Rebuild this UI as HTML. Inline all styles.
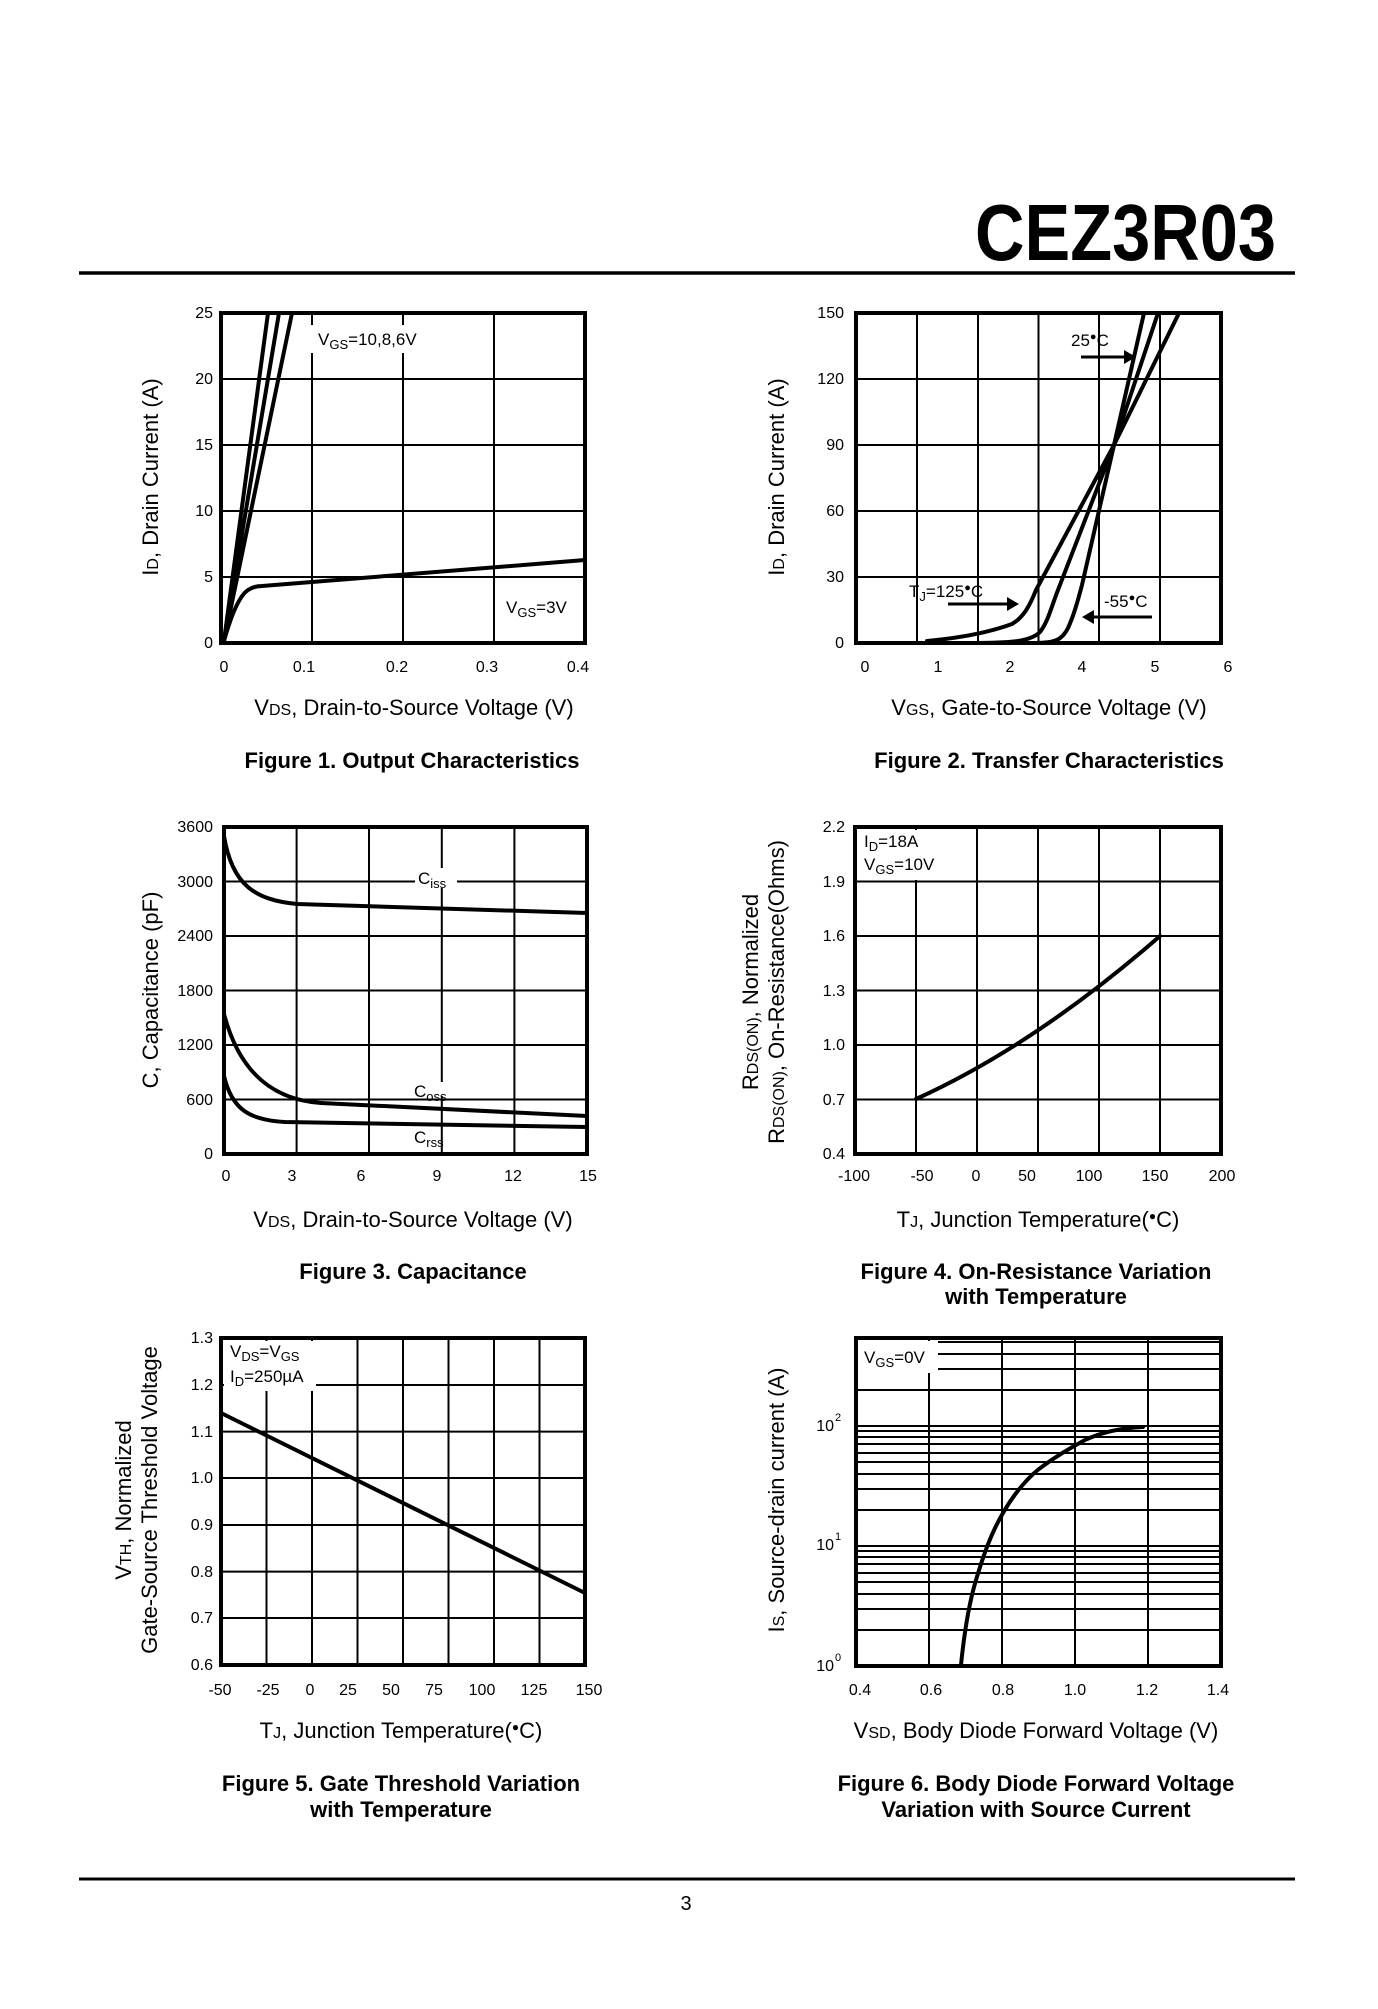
<!DOCTYPE html>
<html><head><meta charset="utf-8"><style>
html,body{margin:0;padding:0;background:#fff;}
svg{display:block;}
text{font-family:"Liberation Sans",Arial,sans-serif;fill:#000;}
.t{font-size:16px;}
.ax{font-size:22px;}
.cap{font-size:22px;font-weight:bold;}
.lg{font-size:17px;}
.g{stroke:#000;stroke-width:2;fill:none;}
.b{stroke:#000;stroke-width:4;fill:none;}
.c{stroke:#000;stroke-width:4;fill:none;stroke-linejoin:round;stroke-linecap:round;}
</style></head><body>
<svg width="1378" height="2009" viewBox="0 0 1378 2009" xmlns="http://www.w3.org/2000/svg">
<rect width="1378" height="2009" fill="#fff"/>
<text x="1276" y="260" font-size="80" font-weight="bold" text-anchor="end" textLength="301" lengthAdjust="spacingAndGlyphs">CEZ3R03</text>
<line x1="79" y1="273" x2="1295" y2="273" stroke="#000" stroke-width="3.5"/>
<line x1="79" y1="1879" x2="1295" y2="1879" stroke="#000" stroke-width="3"/>
<text x="686" y="1910" font-size="20" text-anchor="middle">3</text>

<!-- Fig 1 -->
<g>
<path class="g" d="M312,313V643M403,313V643M494,313V643M221,577H585M221,511H585M221,445H585M221,379H585"/>
<rect x="310" y="325" width="120" height="28" fill="#fff"/>
<path class="c" d="M224,641L268,313M224,641L279,313M224,641L292,313"/>
<path class="c" d="M224,641 Q236,598 248,590 Q254,586 262,586 L585,560"/>
<rect class="b" x="221" y="313" width="364" height="330"/>
<text class="lg" x="318" y="345">V<tspan font-size="13" dy="4">GS</tspan><tspan dy="-4">=10,8,6V</tspan></text>
<text class="lg" x="506" y="613">V<tspan font-size="13" dy="4">GS</tspan><tspan dy="-4">=3V</tspan></text>
<g class="t" text-anchor="end"><text x="213" y="648">0</text><text x="213" y="582">5</text><text x="213" y="516">10</text><text x="213" y="450">15</text><text x="213" y="384">20</text><text x="213" y="318">25</text></g>
<g class="t" text-anchor="middle"><text x="224" y="672">0</text><text x="304" y="672">0.1</text><text x="397" y="672">0.2</text><text x="487" y="672">0.3</text><text x="578" y="672">0.4</text></g>
<text class="ax" x="414" y="715" text-anchor="middle">V<tspan font-size="16">DS</tspan>, Drain-to-Source Voltage (V)</text>
<text class="ax" transform="translate(158,477) rotate(-90)" text-anchor="middle">I<tspan font-size="16">D</tspan>, Drain Current (A)</text>
<text class="cap" x="412" y="768" text-anchor="middle">Figure 1. Output Characteristics</text>
</g>

<!-- Fig 2 -->
<g>
<path class="g" d="M917,313V643M978,313V643M1038.5,313V643M1099,313V643M1160,313V643M856,577H1221M856,511H1221M856,445H1221M856,379H1221"/>
<path class="c" d="M927,641 C960,638 990,632 1012,624 C1024,617 1030,605 1036,590 L1114,445 L1179,313"/>
<path class="c" d="M970,643 C1010,643 1030,642 1040,632 C1048,622 1052,605 1058,590 L1114,445 L1158,313"/>
<path class="c" d="M1035,643 C1055,643 1062,640 1068,628 C1074,615 1078,600 1082,585 L1114,445 L1144,313"/>
<rect class="b" x="856" y="313" width="365" height="330"/>
<text class="lg" x="1071" y="346">25<tspan font-size="11" dy="-6">●</tspan><tspan dy="6">C</tspan></text>
<path d="M1081,357H1128" stroke="#000" stroke-width="3"/><path d="M1136,357L1124,350V364Z"/>
<text class="lg" x="909" y="597">T<tspan font-size="13" dy="4">J</tspan><tspan dy="-4">=125</tspan><tspan font-size="11" dy="-6">●</tspan><tspan dy="6">C</tspan></text>
<path d="M948,604H1011" stroke="#000" stroke-width="3"/><path d="M1019,604L1007,597V611Z"/>
<text class="lg" x="1104" y="607">-55<tspan font-size="11" dy="-6">●</tspan><tspan dy="6">C</tspan></text>
<path d="M1152,617H1090" stroke="#000" stroke-width="3"/><path d="M1082,617L1094,610V624Z"/>
<g class="t" text-anchor="end"><text x="844" y="648">0</text><text x="844" y="582">30</text><text x="844" y="516">60</text><text x="844" y="450">90</text><text x="844" y="384">120</text><text x="844" y="318">150</text></g>
<g class="t" text-anchor="middle"><text x="865" y="672">0</text><text x="938" y="672">1</text><text x="1010" y="672">2</text><text x="1082" y="672">4</text><text x="1155" y="672">5</text><text x="1228" y="672">6</text></g>
<text class="ax" x="1049" y="715" text-anchor="middle">V<tspan font-size="16">GS</tspan>, Gate-to-Source Voltage (V)</text>
<text class="ax" transform="translate(784,477) rotate(-90)" text-anchor="middle">I<tspan font-size="16">D</tspan>, Drain Current (A)</text>
<text class="cap" x="1049" y="768" text-anchor="middle">Figure 2. Transfer Characteristics</text>
</g>

<!-- Fig 3 -->
<g>
<path class="g" d="M296.6,827V1154M369,827V1154M441.8,827V1154M514.4,827V1154M224,1099.5H587M224,1045H587M224,990.5H587M224,936H587M224,881.5H587"/>
<path class="c" d="M224,836 C232,885 255,900 297,904 L587,913"/>
<path class="c" d="M224,1014 C240,1075 275,1100 321,1103 L587,1116"/>
<path class="c" d="M224,1076 C232,1110 250,1120 285,1122 L587,1127"/>
<rect class="b" x="224" y="827" width="363" height="327"/>
<rect x="415" y="868" width="42" height="20" fill="#fff"/>
<text class="lg" x="418" y="884">C<tspan font-size="13" dy="4">iss</tspan></text>
<rect x="412" y="1082" width="47" height="14" fill="#fff"/>
<text class="lg" x="414" y="1097">C<tspan font-size="13" dy="4">oss</tspan></text>
<text class="lg" x="414" y="1143">C<tspan font-size="13" dy="4">rss</tspan></text>
<g class="t" text-anchor="end"><text x="213" y="1159">0</text><text x="213" y="1105">600</text><text x="213" y="1050">1200</text><text x="213" y="996">1800</text><text x="213" y="941">2400</text><text x="213" y="887">3000</text><text x="213" y="832">3600</text></g>
<g class="t" text-anchor="middle"><text x="226" y="1181">0</text><text x="292" y="1181">3</text><text x="361" y="1181">6</text><text x="437" y="1181">9</text><text x="513" y="1181">12</text><text x="588" y="1181">15</text></g>
<text class="ax" x="413" y="1227" text-anchor="middle">V<tspan font-size="16">DS</tspan>, Drain-to-Source Voltage (V)</text>
<text class="ax" transform="translate(158,990) rotate(-90)" text-anchor="middle">C, Capacitance (pF)</text>
<text class="cap" x="413" y="1279" text-anchor="middle">Figure 3. Capacitance</text>
</g>

<!-- Fig 4 -->
<g>
<path class="g" d="M916,827V1154M977,827V1154M1038,827V1154M1099,827V1154M1160,827V1154M855,1099.5H1221M855,1045H1221M855,990.5H1221M855,936H1221M855,881.5H1221"/>
<rect x="858" y="830" width="84" height="50" fill="#fff"/>
<path class="c" d="M916,1099 Q1035,1045 1160,936"/>
<rect class="b" x="855" y="827" width="366" height="327"/>
<text class="lg" x="864" y="847">I<tspan font-size="13" dy="4">D</tspan><tspan dy="-4">=18A</tspan></text>
<text class="lg" x="864" y="870">V<tspan font-size="13" dy="4">GS</tspan><tspan dy="-4">=10V</tspan></text>
<g class="t" text-anchor="end"><text x="845" y="1159">0.4</text><text x="845" y="1105">0.7</text><text x="845" y="1050">1.0</text><text x="845" y="996">1.3</text><text x="845" y="941">1.6</text><text x="845" y="887">1.9</text><text x="845" y="832">2.2</text></g>
<g class="t" text-anchor="middle"><text x="854" y="1181">-100</text><text x="922" y="1181">-50</text><text x="976" y="1181">0</text><text x="1027" y="1181">50</text><text x="1089" y="1181">100</text><text x="1155" y="1181">150</text><text x="1222" y="1181">200</text></g>
<text class="ax" x="1038" y="1227" text-anchor="middle">T<tspan font-size="16">J</tspan>, Junction Temperature(<tspan font-size="12" dy="-7">●</tspan><tspan dy="7">C)</tspan></text>
<text class="ax" transform="translate(758,992) rotate(-90)" text-anchor="middle">R<tspan font-size="16">DS(ON)</tspan>, Normalized</text>
<text class="ax" transform="translate(784,992) rotate(-90)" text-anchor="middle">R<tspan font-size="16">DS(ON)</tspan>, On-Resistance(Ohms)</text>
<text class="cap" x="1036" y="1279" text-anchor="middle">Figure 4. On-Resistance Variation</text>
<text class="cap" x="1036" y="1304" text-anchor="middle">with Temperature</text>
</g>

<!-- Fig 5 -->
<g>
<path class="g" d="M266.5,1338V1665M312,1338V1665M357.5,1338V1665M403,1338V1665M448.5,1338V1665M494,1338V1665M539.5,1338V1665M221,1618H585M221,1571.6H585M221,1525H585M221,1478H585M221,1431.6H585M221,1385H585"/>
<rect x="224" y="1341" width="92" height="50" fill="#fff"/>
<path class="c" d="M221,1413L585,1593"/>
<rect class="b" x="221" y="1338" width="364" height="327"/>
<text class="lg" x="230" y="1357">V<tspan font-size="13" dy="4">DS</tspan><tspan dy="-4">=V</tspan><tspan font-size="13" dy="4">GS</tspan></text>
<text class="lg" x="230" y="1382">I<tspan font-size="13" dy="4">D</tspan><tspan dy="-4">=250µA</tspan></text>
<g class="t" text-anchor="end"><text x="213" y="1670">0.6</text><text x="213" y="1623">0.7</text><text x="213" y="1577">0.8</text><text x="213" y="1530">0.9</text><text x="213" y="1483">1.0</text><text x="213" y="1437">1.1</text><text x="213" y="1390">1.2</text><text x="213" y="1343">1.3</text></g>
<g class="t" text-anchor="middle"><text x="220" y="1695">-50</text><text x="268" y="1695">-25</text><text x="310" y="1695">0</text><text x="348" y="1695">25</text><text x="391" y="1695">50</text><text x="434" y="1695">75</text><text x="482" y="1695">100</text><text x="534" y="1695">125</text><text x="589" y="1695">150</text></g>
<text class="ax" x="401" y="1738" text-anchor="middle">T<tspan font-size="16">J</tspan>, Junction Temperature(<tspan font-size="12" dy="-7">●</tspan><tspan dy="7">C)</tspan></text>
<text class="ax" transform="translate(131,1500) rotate(-90)" text-anchor="middle">V<tspan font-size="16">TH</tspan>, Normalized</text>
<text class="ax" transform="translate(157,1500) rotate(-90)" text-anchor="middle">Gate-Source Threshold Voltage</text>
<text class="cap" x="401" y="1791" text-anchor="middle">Figure 5. Gate Threshold Variation</text>
<text class="cap" x="401" y="1817" text-anchor="middle">with Temperature</text>
</g>

<!-- Fig 6 -->
<g>
<path class="g" d="M929,1338V1666M1002,1338V1666M1075,1338V1666M1148,1338V1666"/>
<path class="g" d="M856,1630H1221M856,1609H1221M856,1594H1221M856,1582H1221M856,1573H1221M856,1564H1221M856,1557H1221M856,1551H1221M856,1546H1221M856,1510H1221M856,1489H1221M856,1474H1221M856,1462H1221M856,1453H1221M856,1444H1221M856,1437H1221M856,1431H1221M856,1426H1221M856,1390H1221M856,1369H1221M856,1354H1221M856,1342H1221"/>
<rect x="858" y="1341" width="80" height="32" fill="#fff"/>
<path class="c" d="M961,1665 C965,1625 970,1600 976,1580 C982,1560 990,1535 1003,1513 C1015,1492 1030,1475 1043,1466 C1058,1455 1070,1448 1085,1440 C1100,1433 1120,1428 1143,1427"/>
<rect class="b" x="856" y="1338" width="365" height="328"/>
<text class="lg" x="864" y="1363">V<tspan font-size="13" dy="4">GS</tspan><tspan dy="-4">=0V</tspan></text>
<g class="t" text-anchor="end"><text x="834" y="1671">10</text><text x="834" y="1550">10</text><text x="834" y="1431">10</text></g>
<g font-size="11"><text x="835" y="1661">0</text><text x="835" y="1540">1</text><text x="835" y="1421">2</text></g>
<g class="t" text-anchor="middle"><text x="860" y="1695">0.4</text><text x="931" y="1695">0.6</text><text x="1003" y="1695">0.8</text><text x="1075" y="1695">1.0</text><text x="1147" y="1695">1.2</text><text x="1218" y="1695">1.4</text></g>
<text class="ax" x="1036" y="1738" text-anchor="middle">V<tspan font-size="16">SD</tspan>, Body Diode Forward Voltage (V)</text>
<text class="ax" transform="translate(784,1500) rotate(-90)" text-anchor="middle">I<tspan font-size="16">S</tspan>, Source-drain current (A)</text>
<text class="cap" x="1036" y="1791" text-anchor="middle">Figure 6. Body Diode Forward Voltage</text>
<text class="cap" x="1036" y="1817" text-anchor="middle">Variation with Source Current</text>
</g>
</svg>
</body></html>
